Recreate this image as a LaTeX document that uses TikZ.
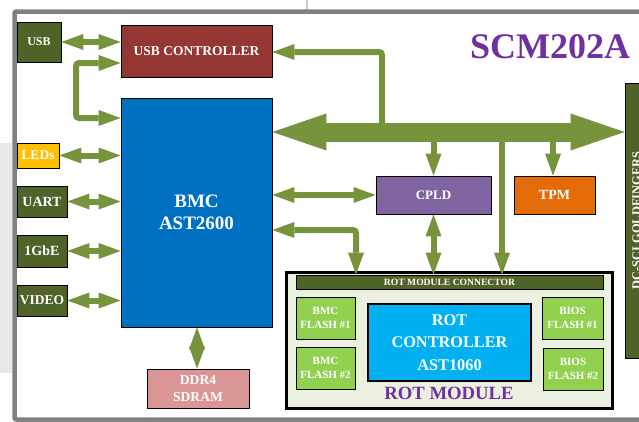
\documentclass[tikz,border=0pt]{standalone}
\usepackage{fontspec}
\setmainfont{Liberation Serif}
\usetikzlibrary{arrows.meta}
\definecolor{olivebox}{HTML}{4F6228}
\definecolor{argreen}{HTML}{77933C}
\definecolor{usbred}{HTML}{943634}
\definecolor{bmcblue}{HTML}{0070C0}
\definecolor{ledyel}{HTML}{FFC000}
\definecolor{ddrpink}{HTML}{D99694}
\definecolor{cpldpur}{HTML}{8064A2}
\definecolor{tpmorg}{HTML}{E36C09}
\definecolor{rotbg}{HTML}{EBF1DE}
\definecolor{flashgr}{HTML}{92D050}
\definecolor{rotcyan}{HTML}{00B0F0}
\definecolor{titlepur}{HTML}{7030A0}
\definecolor{framegray}{HTML}{808080}
\definecolor{panelgray}{HTML}{E8E8E8}
\newcommand{\fsz}[2]{\fontsize{#1}{#2}\selectfont\bfseries}
\begin{document}
\begin{tikzpicture}[x=1pt,y=-1pt,
  box/.style={draw=black, line width=0.8pt, inner sep=0pt, text=white, align=center},
  biarrow/.style={draw=argreen, line width=6pt,
    {Triangle[length=22pt,width=16pt,line width=0pt]}-{Triangle[length=22pt,width=16pt,line width=0pt]}},
  oneway/.style={draw=argreen, line width=6pt, rounded corners=3pt,
    -{Triangle[length=22pt,width=16pt,line width=0pt]}},
  busarrow/.style={draw=argreen, line width=19pt,
    {Triangle[length=54pt,width=37pt,line width=0pt]}-{Triangle[length=54pt,width=37pt,line width=0pt]}}
]
\useasboundingbox (0,0) rectangle (639,421);
\clip (0,0) rectangle (639,421);
\fill[white] (0,0) rectangle (639,421);
% left gray panel and top tick
\fill[panelgray] (0,143) rectangle (12,373);
\draw[line width=2pt, color=black!20] (307,0) -- (307,10);
% frame
\draw[framegray, line width=4.5pt, rounded corners=2pt] (14.5,11.5) rectangle (700,419.5);

% title
\node[text=titlepur, font=\fsz{36}{40}] (title) at (550,47) {SCM202A};

% gold fingers
\node[box, fill=olivebox, rotate=90, minimum width=275pt, minimum height=23pt, font=\fsz{12.4}{14}] (gold) at (636.5,220.5) {DC-SCI GOLDFINGERS};

% left boxes
\node[box, fill=olivebox, minimum width=44pt, minimum height=40pt, font=\fsz{12}{14}] (usb) at (39,42) {USB};
\node[box, fill=ledyel, minimum width=42pt, minimum height=25pt, font=\fsz{13.5}{15}] (leds) at (38,155.5) {LEDs};
\node[box, fill=olivebox, minimum width=50pt, minimum height=31pt, font=\fsz{14}{16}] (uart) at (42,201.5) {UART};
\node[box, fill=olivebox, minimum width=50pt, minimum height=32pt, font=\fsz{14}{16}] (gbe) at (42,251) {1GbE};
\node[box, fill=olivebox, minimum width=50pt, minimum height=31pt, font=\fsz{13.5}{16}] (video) at (42,300.5) {VIDEO};

% main boxes
\node[box, fill=usbred, minimum width=151pt, minimum height=52pt, font=\fsz{13.5}{16}] (usbctrl) at (196.5,51) {USB CONTROLLER};
\node[box, fill=bmcblue, minimum width=151pt, minimum height=229pt, font=\fsz{19}{21.5}] (bmc) at (196.5,212.5) {BMC\\AST2600};
\node[box, fill=ddrpink, minimum width=102pt, minimum height=39pt, font=\fsz{13.6}{17}] (ddr) at (198,388.5) {DDR4\\SDRAM};
\node[box, fill=cpldpur, minimum width=115pt, minimum height=38pt, font=\fsz{13}{15}] (cpld) at (433.5,195) {CPLD};
\node[box, fill=tpmorg, minimum width=81pt, minimum height=38pt, font=\fsz{14}{16}] (tpm) at (554.5,195) {TPM};

% ROT module
\node[draw=black, line width=3pt, fill=rotbg, minimum width=326pt, minimum height=136pt, inner sep=0pt] (rotmod) at (449,340) {};
\node[box, fill=olivebox, minimum width=307pt, minimum height=14pt, font=\fsz{9.6}{11}] (conn) at (449.5,282) {ROT MODULE CONNECTOR};
\node[box, fill=flashgr, minimum width=59pt, minimum height=42pt, font=\fsz{11}{13.5}] (bmcf1) at (325.5,318) {BMC\\FLASH \#1};
\node[box, fill=flashgr, minimum width=59pt, minimum height=42pt, font=\fsz{11}{13.5}] (bmcf2) at (325.5,368) {BMC\\FLASH \#2};
\node[box, fill=flashgr, minimum width=61pt, minimum height=42pt, font=\fsz{11}{13.5}] (biosf1) at (572.5,318) {BIOS\\FLASH \#1};
\node[box, fill=flashgr, minimum width=60pt, minimum height=42pt, font=\fsz{11}{13.5}] (biosf2) at (573,369) {BIOS\\FLASH \#2};
\node[box, line width=1.2pt, fill=rotcyan, minimum width=163pt, minimum height=77pt, font=\fsz{16.3}{22.5}] (rotctrl) at (449.5,342.5) {ROT\\CONTROLLER\\AST1060};
\node[text=titlepur, font=\fsz{18.7}{20}, inner sep=0pt] (rotlbl) at (449,393) {ROT MODULE};

% bus
\draw[busarrow] (bmc.east |- 0,132) -- (gold.north |- 0,132);
\coordinate (bususb) at (382,132);
\coordinate (buscpld) at (cpld.north |- 0,132);
\coordinate (bustpm) at (553,132);
\coordinate (busrot) at (502,132);
\draw[oneway] (bususb) |- (usbctrl.east |- 0,52);
\draw[oneway, rounded corners=0pt] (buscpld) -- (cpld.north);
\draw[oneway, rounded corners=0pt] (bustpm) -- (bustpm |- tpm.north);
\draw[oneway, rounded corners=0pt] (busrot) -- (busrot |- conn.north);

% BMC right side
\draw[biarrow] (bmc.east |- cpld.west) -- (cpld.west);
\draw[biarrow, rounded corners=3pt] (bmc.east |- 0,230) -| (356,0 |- conn.north);
\draw[biarrow] (cpld.south) -- (cpld.south |- conn.north);
\draw[biarrow] (bmc.south -| 197,0) -- (ddr.north -| 197,0);

% left side
\draw[biarrow] (usb.east) -- (usb.east -| usbctrl.west);
\draw[biarrow, rounded corners=3pt] (usbctrl.west |- 0,63) -- (76,63) -- (76,118) -- (bmc.west |- 0,118);
\draw[biarrow] (leds.east) -- (leds.east -| bmc.west);
\draw[biarrow] (uart.east) -- (uart.east -| bmc.west);
\draw[biarrow] (gbe.east) -- (gbe.east -| bmc.west);
\draw[biarrow] (video.east) -- (video.east -| bmc.west);
\end{tikzpicture}
\end{document}
